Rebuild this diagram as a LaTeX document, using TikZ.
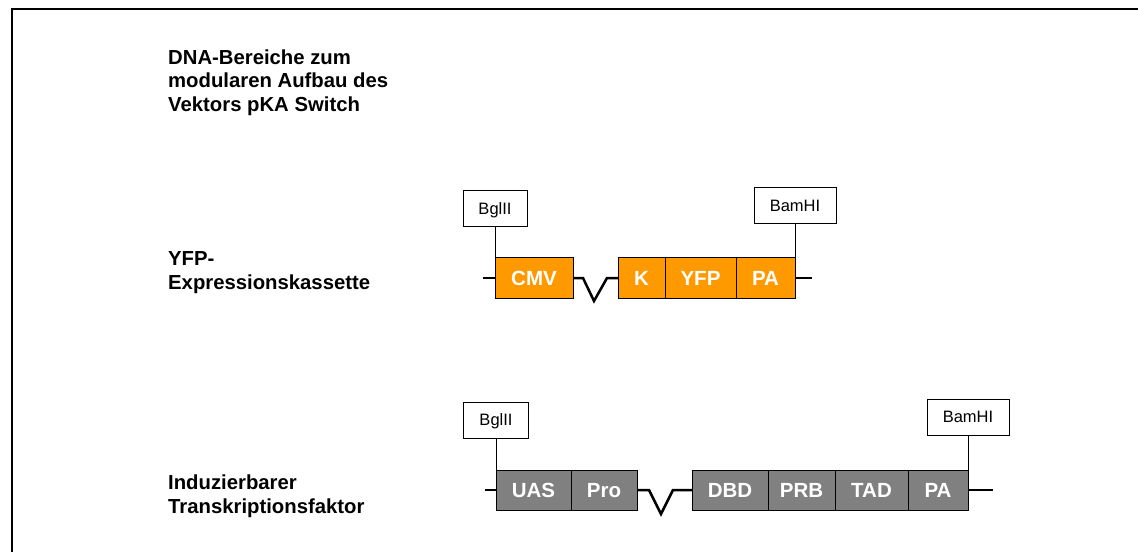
\documentclass[tikz,border=0pt]{standalone}
\usepackage{fontspec}
\setmainfont{Liberation Sans}
\usepackage{xcolor}
\usetikzlibrary{positioning}
\definecolor{kassette}{RGB}{255,153,0}
\definecolor{faktor}{RGB}{128,128,128}
\tikzstyle{element} = [rectangle, draw=black, line width=0.9pt, text=white, font=\fontsize{20.5}{24}\selectfont\bfseries, text height=14.7pt, text depth=0pt, minimum height=41pt, inner sep=0pt, outer sep=0pt]
\tikzstyle{yfpel} = [element, fill=kassette]
\tikzstyle{tfel} = [element, fill=faktor, minimum height=40pt]
\tikzstyle{site} = [rectangle, draw=black, line width=0.8pt, fill=white, font=\fontsize{16.5}{20}\selectfont, text height=11.8pt, text depth=0pt, minimum height=36pt, inner sep=0pt, outer sep=0pt]
\tikzstyle{rowtitle} = [align=left, anchor=base west, font=\fontsize{20.3}{23.5}\selectfont\bfseries, inner sep=0pt]
\tikzstyle{dna} = [line width=2.5pt]
\tikzstyle{cut} = [line width=0.8pt]

\begin{document}
\begin{tikzpicture}[x=1pt, y=-1pt]
\useasboundingbox (0,0) rectangle (1138,552);
\draw [line width=1.8pt] (12,552) -- (12,9) -- (1138,9);

\node (title) [rowtitle] at (168,111) {DNA-Bereiche zum\\modularen Aufbau des\\Vektors pKA Switch};
\node (yfptitle) [rowtitle] at (168,289) {YFP-\\Expressionskassette};
\node (tftitle) [rowtitle] at (168,513) {Induzierbarer\\Transkriptionsfaktor};

\node (cmv) [yfpel, minimum width=78pt, anchor=west] at (495,278) {CMV};
\node (k1) [yfpel, minimum width=47pt, right=45pt of cmv] {K};
\node (yfp) [yfpel, minimum width=71pt, right=0pt of k1] {YFP};
\node (pa1) [yfpel, minimum width=59pt, right=0pt of yfp] {PA};
\node (bgl1) [site, minimum width=64pt, above=31pt of cmv.north west] {BglII};
\node (bam1) [site, minimum width=82pt, above=34pt of pa1.north east] {BamHI};
\coordinate [left=12pt of cmv.west] (in1);
\coordinate [right=17pt of pa1.east] (out1);
\draw [dna] (in1) -- (cmv.west);
\draw [dna] (cmv.east) -- ++(10,0) -- ++(11,23) -- ++(13,-23) -- (k1.west);
\draw [dna] (pa1.east) -- (out1);
\draw [cut] (bgl1) -- (cmv.north west);
\draw [cut] (bam1) -- (pa1.north east);

\node (uas) [tfel, minimum width=75pt, anchor=west] at (496,490) {UAS};
\node (pro) [tfel, minimum width=66pt, right=0pt of uas] {Pro};
\node (dbd) [tfel, minimum width=76pt, right=55pt of pro] {DBD};
\node (prb) [tfel, minimum width=67pt, right=0pt of dbd] {PRB};
\node (tad) [tfel, minimum width=73pt, right=0pt of prb] {TAD};
\node (pa2) [tfel, minimum width=60pt, right=0pt of tad] {PA};
\node (bgl2) [site, minimum width=65pt, above=32pt of uas.north west] {BglII};
\node (bam2) [site, minimum width=82pt, above=35pt of pa2.north east] {BamHI};
\coordinate [left=11pt of uas.west] (in2);
\coordinate [right=25pt of pa2.east] (out2);
\draw [dna] (in2) -- (uas.west);
\draw [dna] (pro.east) -- ++(12,0) -- ++(12,24) -- ++(12,-24) -- (dbd.west);
\draw [dna] (pa2.east) -- (out2);
\draw [cut] (bgl2) -- (uas.north west);
\draw [cut] (bam2) -- (pa2.north east);
\end{tikzpicture}
\end{document}
